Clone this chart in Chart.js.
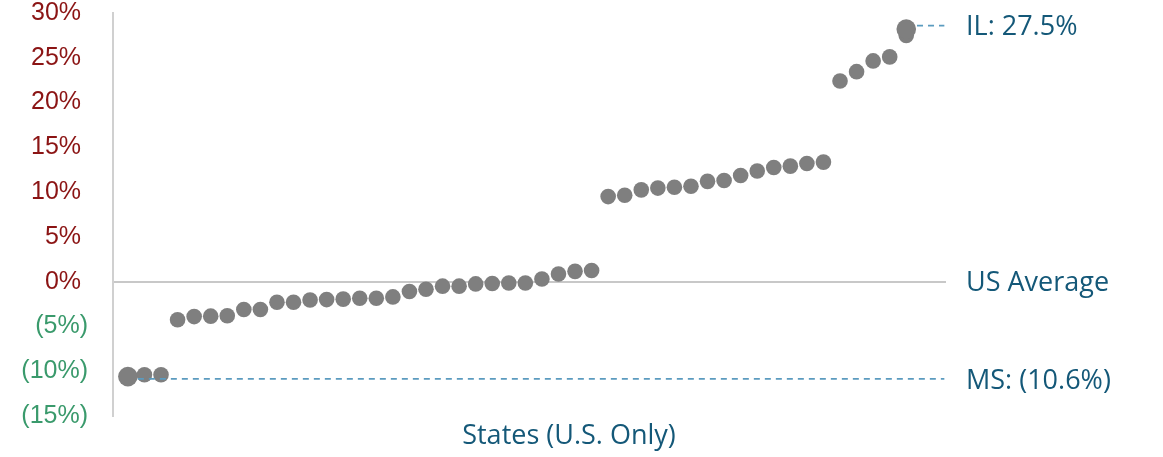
<!DOCTYPE html>
<html>
<head>
<meta charset="utf-8">
<script src="https://cdn.jsdelivr.net/npm/chart.js@4"></script>
<style>
  html, body { margin: 0; padding: 0; background: #fff; }
  .chart-container { width: 1163px; height: 457px; position: relative; }
</style>
</head>
<body>
<div class="chart-container">
  <canvas id="stateChart"></canvas>
</div>
<script>
// state gaps vs US average (%), sorted low to high, MS first and IL last
const stateValues = [
  -10.6, -10.4, -10.4,
  -4.25, -3.9, -3.85, -3.8, -3.1, -3.1, -2.3, -2.3, -2.05, -2.0, -1.95, -1.85, -1.85, -1.7,
  -1.1, -0.85, -0.5, -0.5, -0.25, -0.2, -0.15, -0.15, 0.3, 0.85, 1.15, 1.25,
  9.5, 9.65, 10.25, 10.45, 10.55, 10.65, 11.2, 11.3, 11.85, 12.35, 12.75, 12.9, 13.2, 13.35,
  22.4, 23.45, 24.65, 25.1, 27.5
]
const highlightIndex = [1, 48]
const highlightValues = [-10.6, 28.2]
const msLine = { x: [1.6, 50.3], y: -10.85 }
const ilLine = { x: [48.65, 50.3], y: 28.6 }
const yTicks = [-15, -10, -5, 0, 5, 10, 15, 20, 25, 30]
const sideLabels = [
  { text: 'IL: 27.5%', value: 28.6 },
  { text: 'US Average', value: 0 },
  { text: 'MS: (10.6%)', value: -10.85 }
]
const xTitle = 'States (U.S. Only)'

const labelBlue = '#145878'
const dashBlue = '#5b9bbf'
const dotGrey = '#7f7f7f'

const points = stateValues.map((v, i) => ({ x: i + 1, y: v }))
const highlights = highlightValues.map((v, i) => ({ x: highlightIndex[i], y: v }))

const sideText = {
  id: 'sideText',
  afterDatasetsDraw (chart) {
    const { ctx, scales: { y } } = chart
    ctx.save()
    ctx.fillStyle = labelBlue
    ctx.font = '27px "Open Sans"'
    ctx.textBaseline = 'middle'
    ctx.textAlign = 'left'
    sideLabels.forEach((l) => {
      ctx.fillText(l.text, 966, y.getPixelForValue(l.value) + 2)
    })
    ctx.textAlign = 'center'
    ctx.fillText(xTitle, 569, 436)
    ctx.restore()
  }
}

new Chart(document.getElementById('stateChart'), {
  type: 'scatter',
  data: {
    datasets: [
      {
        type: 'line',
        data: msLine.x.map((x) => ({ x, y: msLine.y })),
        borderColor: dashBlue,
        borderWidth: 1.8,
        borderDash: [6, 5],
        pointRadius: 0,
        order: 0
      },
      {
        type: 'line',
        data: ilLine.x.map((x) => ({ x, y: ilLine.y })),
        borderColor: dashBlue,
        borderWidth: 1.8,
        borderDash: [6, 5],
        pointRadius: 0,
        order: 0
      },
      {
        data: highlights,
        backgroundColor: dotGrey,
        borderWidth: 0,
        pointRadius: 9.8,
        order: 1
      },
      {
        data: points,
        backgroundColor: dotGrey,
        borderWidth: 0,
        pointRadius: 7.8,
        order: 2
      }
    ]
  },
  options: {
    responsive: true,
    maintainAspectRatio: false,
    animation: false,
    layout: { padding: { left: 0, top: 13, right: 217, bottom: 41 } },
    plugins: { legend: { display: false }, tooltip: { enabled: false } },
    scales: {
      x: {
        type: 'linear',
        display: false,
        min: 0.1,
        max: 50.4
      },
      y: {
        min: -15,
        max: 30,
        afterBuildTicks: (scale) => {
          scale.ticks = yTicks.map((v) => ({ value: v }))
        },
        afterFit: (scale) => {
          scale.width = 113
          scale.paddingTop = 0
          scale.paddingBottom = 0
        },
        border: { display: true, color: '#d0d0d0', width: 2 },
        grid: {
          drawTicks: false,
          lineWidth: 2,
          color: (ctx) => ctx.tick && ctx.tick.value === 0 ? '#c8c8c8' : 'rgba(0,0,0,0)'
        },
        ticks: {
          padding: 25,
          font: { family: '"Liberation Sans"', size: 25 },
          color: (ctx) => ctx.tick.value < 0 ? '#3a9a6c' : '#8b1414',
          callback: (value) => value < 0 ? '(' + (-value) + '%)' : value + '% '
        }
      }
    }
  },
  plugins: [sideText]
})
</script>
</body>
</html>
